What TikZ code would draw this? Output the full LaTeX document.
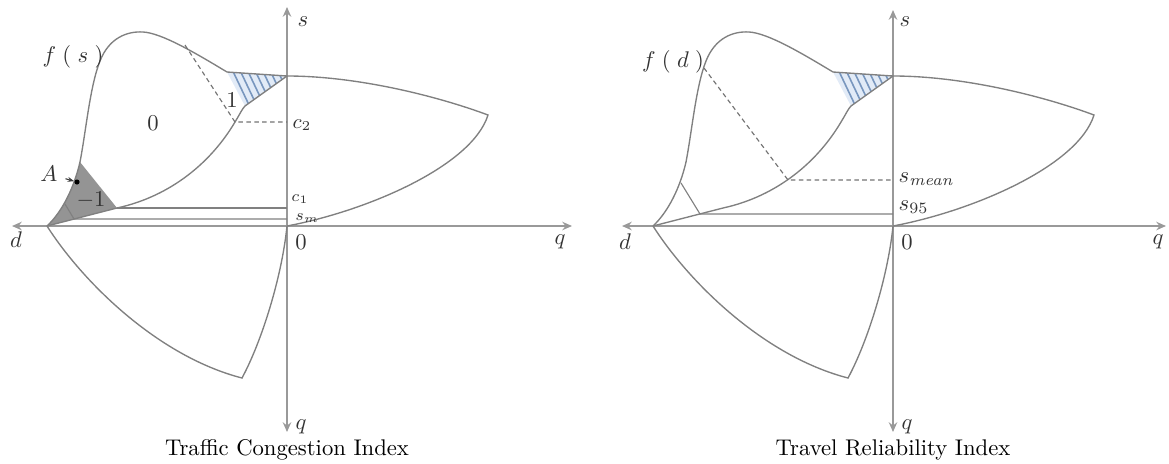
\documentclass[tikz,border=0pt]{standalone}
\usepackage{amsmath}
\usetikzlibrary{arrows.meta}
\definecolor{hatchblue}{RGB}{120,150,190}
\definecolor{hatchbg}{RGB}{226,235,247}
\tikzset{
  axis/.style={line width=0.9pt,black!40},
  both/.style={{Stealth[length=1.5mm,width=1.3mm]}-{Stealth[length=1.5mm,width=1.3mm]}},
  outline/.style={line width=0.6pt,black!50},
  hline/.style={line width=0.5pt,black!50},
  guide/.style={line width=0.5pt,black!55,dash pattern=on 2pt off 1.5pt},
  hatchfill/.style={fill=hatchbg},
  hatch/.style={line width=0.7pt,hatchblue},
  darkfill/.style={fill=black!42},
  dot/.style={circle,fill=black,inner sep=0.8pt},
  lbl/.style={font=\normalsize,text=black!80},
  axlbl/.style={font=\small,text=black!80,anchor=west,inner sep=1pt},
  caption/.style={font=\normalsize,anchor=base},
  ptr/.style={line width=0.5pt,black!75,-{Stealth[length=1mm]}},
}
\begin{document}
\begin{tikzpicture}[x=0.0155cm,y=-0.0155cm]
  \useasboundingbox (0,0) rectangle (1169,463);
  % ---- left: traffic congestion index ----
  \begin{scope}[shift={(287,226)}]
    \coordinate (O) at (0,0);
    \coordinate (D) at (-240,0);
    \coordinate (Ap) at (-207,-64);
    \coordinate (K) at (-187,-165);
    \coordinate (Tp) at (-144,-194);
    \coordinate (H) at (-60,-154);
    \coordinate (T) at (0,-150);
    \coordinate (E) at (-42,-120);
    \coordinate (C) at (-52,-104);
    \coordinate (B) at (-170,-18);
    \coordinate (R) at (201,-111);
    \coordinate (V) at (-45,152);
    \coordinate (F) at (-102,-181);
    \coordinate (G) at (-213,-7);
    \coordinate (Gs) at (-222,-22);
    % shaded region A
    \fill[darkfill] (D) .. controls (-225,-14) and (-213,-38) .. (Ap) -- (B) -- cycle;
    % hatched wedge
    \fill[hatchfill] (H) -- (T) -- (E) -- cycle;
    \begin{scope}
      \clip (H) -- (T) -- (E) -- cycle;
      \foreach \i in {0,...,12} \draw[hatch] (-80+\i*7.5,-162) -- ++(20,42);
    \end{scope}
    % axes
    \coordinate (sTop) at (0,-219);
    \coordinate (sBot) at (0,206);
    \coordinate (dEnd) at (-275,0);
    \coordinate (qEnd) at (285,0);
    \draw[axis,both] (dEnd) -- (qEnd);
    \draw[axis,both] (sBot) -- (sTop);
    % the curves
    \draw[outline] (D) .. controls (-225,-14) and (-213,-38) .. (Ap)
      .. controls (-201,-95) and (-197,-140) .. (K)
      .. controls (-178,-188) and (-160,-195) .. (Tp)
      .. controls (-125,-193) and (-90,-172) .. (H) -- (T)
      .. controls (70,-150) and (150,-130) .. (R)
      .. controls (185,-60) and (80,-15) .. (O);
    \draw[outline] (D) -- (B) .. controls (-115,-30) and (-75,-65) .. (C)
      .. controls (-47,-112) and (-45,-117) .. (E) -- (T);
    \draw[outline] (D) .. controls (-205,55) and (-130,130) .. (V)
      .. controls (-25,115) and (-5,50) .. (O);
    \draw[hline] (Gs) -- (G) -- (G -| O);
    \draw[hline] (B) -- (B -| O);
    \draw[guide] (F) -- (C) -- (C -| O);
    % labels
    \node[lbl] (fs) at (-214,-169) {$f\;(\;s\;)$};
    \node[lbl] (zeroL) at (-134,-103) {0};
    \node[lbl] (oneL) at (-55,-126) {1};
    \node[lbl] (moneL) at (-196,-26) {$-1$};
    \node[dot] (Adot) at (-210,-44) {};
    \node[lbl] (Alab) at (-238,-52) {$A$};
    \draw[ptr] (Alab) -- (Adot);
    \node[axlbl] (c2) at (3,-101) {$c_2$};
    \node[axlbl,font=\scriptsize,inner sep=0pt] (c1) at (4,-27) {$c_1$};
    \node[axlbl,font=\scriptsize,inner sep=0pt] (sm) at (8,-8) {$s_m$};
    \node[lbl] (sL) at (16,-204) {$s$};
    \node[lbl] (qbL) at (14,201) {$q$};
    \node[lbl] (dL) at (-271,14) {$d$};
    \node[lbl] (qrL) at (273,16) {$q$};
    \node[lbl] (oL) at (14,16) {0};
    \node[caption] (capL) at (0,229) {Traffic Congestion Index};
  \end{scope}
  % ---- right: travel reliability index ----
  \begin{scope}[shift={(893,226)}]
    \coordinate (O) at (0,0);
    \coordinate (D) at (-240,0);
    \coordinate (Ap) at (-207,-64);
    \coordinate (K) at (-187,-165);
    \coordinate (Tp) at (-144,-194);
    \coordinate (H) at (-60,-154);
    \coordinate (T) at (0,-150);
    \coordinate (E) at (-42,-120);
    \coordinate (C) at (-52,-104);
    \coordinate (B) at (-170,-18);
    \coordinate (R) at (201,-111);
    \coordinate (V) at (-45,152);
    \coordinate (F) at (-189,-158);
    \coordinate (M) at (-105,-46);
    \coordinate (S1) at (-212,-43);
    \coordinate (S2) at (-193,-12);
    % hatched wedge
    \fill[hatchfill] (H) -- (T) -- (E) -- cycle;
    \begin{scope}
      \clip (H) -- (T) -- (E) -- cycle;
      \foreach \i in {0,...,12} \draw[hatch] (-80+\i*7.5,-162) -- ++(20,42);
    \end{scope}
    % axes
    \coordinate (sTop) at (0,-216);
    \coordinate (sBot) at (0,206);
    \coordinate (dEnd) at (-271,0);
    \coordinate (qEnd) at (273,0);
    \draw[axis,both] (dEnd) -- (qEnd);
    \draw[axis,both] (sBot) -- (sTop);
    % the curves
    \draw[outline] (D) .. controls (-225,-14) and (-213,-38) .. (Ap)
      .. controls (-201,-95) and (-197,-140) .. (K)
      .. controls (-178,-188) and (-160,-195) .. (Tp)
      .. controls (-125,-193) and (-90,-172) .. (H) -- (T)
      .. controls (70,-150) and (150,-130) .. (R)
      .. controls (185,-60) and (80,-15) .. (O);
    \draw[outline] (D) -- (B) .. controls (-115,-30) and (-75,-65) .. (C)
      .. controls (-47,-112) and (-45,-117) .. (E) -- (T);
    \draw[outline] (D) .. controls (-205,55) and (-130,130) .. (V)
      .. controls (-25,115) and (-5,50) .. (O);
    \draw[hline] (S1) -- (S2) -- (S2 -| O);
    \draw[guide] (F) -- (M) -- (M -| O);
    % labels
    \node[lbl] (fd) at (-220,-164) {$f\;(\;d\;)$};
    \node[axlbl,font=\normalsize] (smean) at (3,-47) {$s_{\mathit{mean}}$};
    \node[axlbl,font=\normalsize] (s95) at (3,-19) {$s_{95}$};
    \node[lbl] (sR) at (12,-204) {$s$};
    \node[lbl] (qbR) at (14,201) {$q$};
    \node[lbl] (dR) at (-268,16) {$d$};
    \node[lbl] (qrR) at (265,16) {$q$};
    \node[lbl] (oR) at (14,16) {0};
    \node[caption] (capR) at (0,229) {Travel Reliability Index};
  \end{scope}
\end{tikzpicture}
\end{document}
